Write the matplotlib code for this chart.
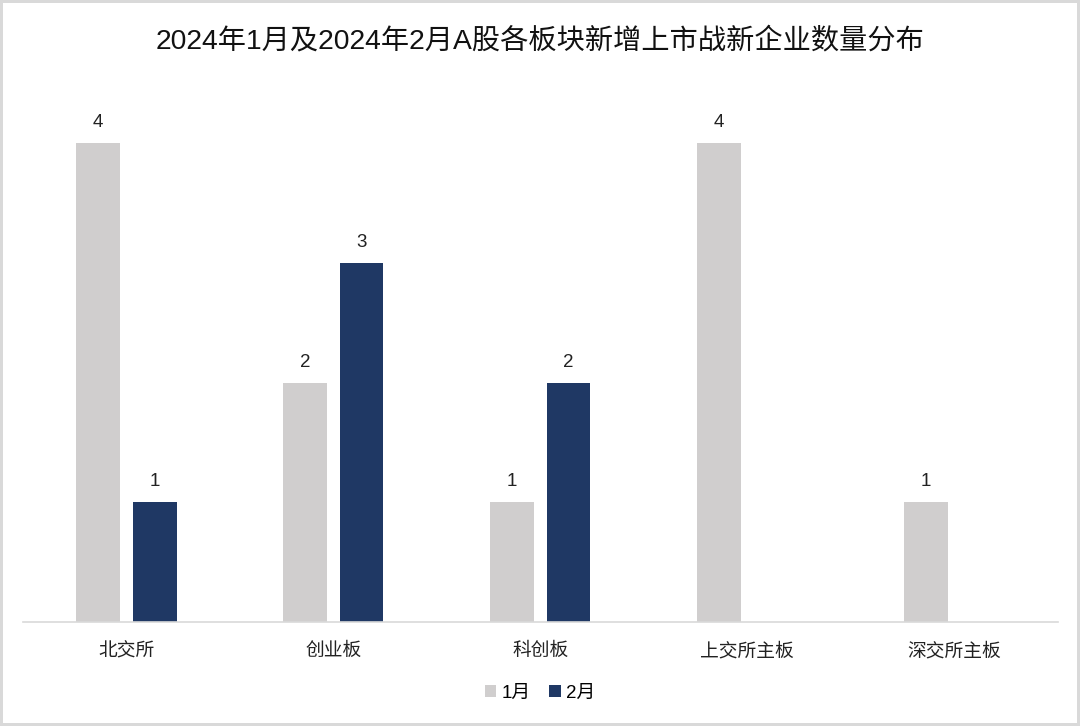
import matplotlib.pyplot as plt
import numpy as np

plt.rcParams['font.family'] = ['Liberation Sans', 'Noto Sans CJK SC', 'DejaVu Sans']

# data
categories = ["北交所", "创业板", "科创板", "上交所主板", "深交所主板"]
jan = [4, 2, 1, 4, 1]
feb = [1, 3, 2, 0, 0]
series_names = ["1月", "2月"]
title = "2024年1月及2024年2月A股各板块新增上市战新企业数量分布"

gray = "#D0CECE"
navy = "#1F3864"

fig = plt.figure(figsize=(10.8, 7.26), dpi=100)
fig.patch.set_edgecolor("#D9D9D9")
fig.patch.set_linewidth(3)

ax = fig.add_axes([0.0213, 0.1433, 0.958, 0.742])
x = np.arange(len(categories))
w = 0.21
off = 0.137
b1 = ax.bar(x - off, jan, w, color=gray, label=series_names[0])
b2 = ax.bar(x + off, feb, w, color=navy, label=series_names[1])

for bars, vals in ((b1, jan), (b2, feb)):
    for rect, v in zip(bars, vals):
        if v > 0:
            ax.text(rect.get_x() + rect.get_width() / 2, v + 0.1, str(v),
                    ha="center", va="bottom", fontsize=13.5, color="#222222")

ax.set_xlim(-0.5, len(categories) - 0.5)
ax.set_ylim(0, 4.5)
ax.set_yticks([])
ax.set_xticks(x)
ax.set_xticklabels(categories, fontsize=13.5, color="#222222")
ax.tick_params(axis="x", length=0, pad=15)
for s in ["top", "left", "right"]:
    ax.spines[s].set_visible(False)
ax.spines["bottom"].set_color("#D9D9D9")
ax.spines["bottom"].set_linewidth(1.2)

fig.text(0.5, 0.943, title, ha="center", va="center", fontsize=20.3, color="#111111")

fig.legend(loc="center", bbox_to_anchor=(0.5, 0.045), ncol=2, frameon=False,
           fontsize=13.5, handlelength=0.6, handleheight=0.6, handletextpad=0.3,
           columnspacing=1.0)

fig.savefig("out.png", dpi=100, edgecolor=fig.get_edgecolor())
